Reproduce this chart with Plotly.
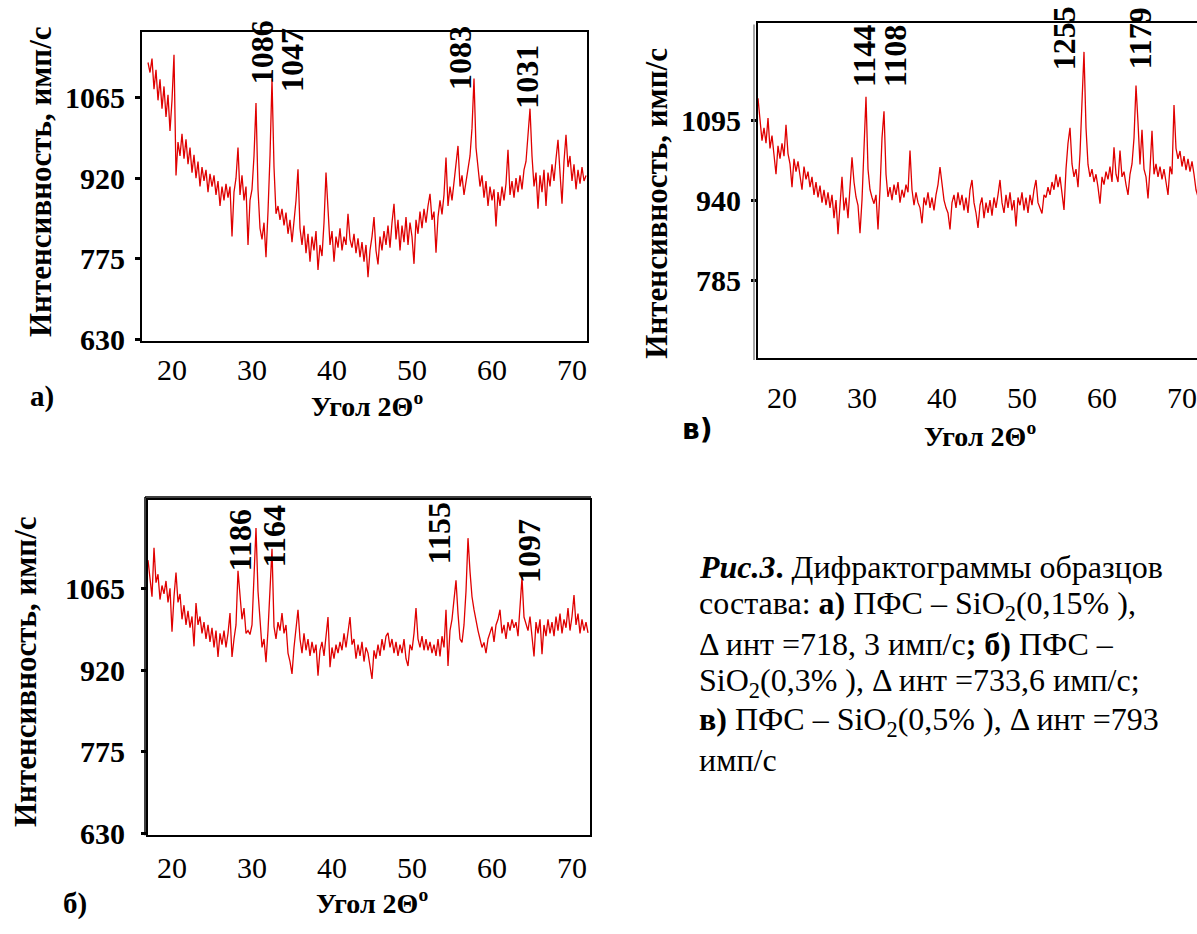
import numpy as np
import plotly.graph_objects as go

W, H = 1197, 934
SERIF = "Liberation Serif"
SANS = "DejaVu Sans"

# ---------------- data (2θ scan, step 0.25°, starting at 17°) ----------------
scan_start = 17.0
scan_step = 0.25

intensity_a = [
    1128, 1110, 1135, 1080, 1115, 1060, 1098, 1045, 1085, 1030, 1070, 1005, 1060, 1142, 925, 985, 960, 1000, 955, 990,
    945, 975, 930, 962, 920, 950, 905, 940, 915, 935, 895, 928, 905, 925, 890, 915, 870, 905, 880, 910,
    885, 905, 815, 895, 920, 975, 890, 925, 880, 905, 800, 880, 900, 960, 1055, 900, 830, 810, 840, 778,
    860, 960, 1098, 940, 856, 870, 845, 865, 835, 858, 820, 845, 805, 840, 880, 936, 830, 800, 835, 785,
    820, 770, 815, 790, 825, 755, 800, 780, 840, 930, 870, 800, 825, 770, 815, 795, 830, 790, 815, 800,
    856, 810, 795, 820, 785, 812, 778, 805, 770, 800, 742, 790, 815, 850, 790, 765, 815, 790, 825, 800,
    835, 795, 840, 874, 810, 845, 790, 835, 805, 850, 800, 840, 815, 766, 845, 820, 860, 830, 865, 840,
    870, 892, 845, 860, 786, 850, 880, 855, 890, 957, 870, 905, 880, 915, 940, 978, 905, 925, 890, 915,
    935, 960, 1010, 1099, 975, 934, 905, 925, 885, 915, 870, 905, 880, 900, 833, 895, 870, 905, 880, 910,
    971, 890, 915, 885, 920, 895, 925, 900, 935, 950, 1000, 1045, 960, 905, 930, 865, 925, 895, 935, 870,
    930, 905, 945, 915, 955, 989, 930, 874, 950, 998, 940, 960, 915, 945, 900, 935, 910, 940, 915, 925,
]

intensity_b = [
    1115, 1080, 1050, 1137, 1075, 1090, 1045, 1070, 1055, 1078, 1040, 1065, 988, 1050, 1093, 1040, 1055, 1010, 1035, 1000,
    1025, 995, 1015, 962, 1039, 1000, 1015, 985, 1005, 975, 1000, 970, 995, 960, 990, 943, 985, 965, 990, 960,
    985, 1021, 943, 975, 1000, 1096, 1045, 1010, 1030, 985, 990, 983, 1000, 1080, 1172, 1060, 1005, 960, 975, 934,
    990, 1060, 1135, 997, 975, 1005, 990, 1021, 985, 1000, 950, 935, 913, 960, 1000, 1027, 975, 950, 985, 955,
    975, 945, 970, 950, 965, 910, 955, 970, 945, 985, 1014, 925, 960, 940, 965, 950, 970, 955, 985, 960,
    990, 1014, 965, 975, 940, 965, 945, 970, 935, 960, 950, 925, 904, 955, 940, 965, 945, 975, 955, 980,
    986, 960, 975, 950, 970, 945, 965, 950, 975, 940, 927, 965, 955, 985, 1030, 975, 960, 980, 955, 975,
    955, 970, 950, 965, 945, 975, 944, 980, 960, 1027, 927, 990, 1010, 1045, 1079, 1020, 975, 969, 1000, 1060,
    1154, 1095, 1050, 1027, 1005, 990, 975, 960, 969, 950, 975, 985, 997, 970, 1000, 1010, 1027, 985, 1000, 975,
    1005, 990, 1010, 995, 1005, 980, 1040, 1084, 1014, 1000, 990, 1015, 975, 944, 1005, 985, 1010, 948, 1000, 980,
    1010, 985, 1005, 980, 1015, 990, 1020, 985, 1010, 995, 1030, 990, 1015, 1053, 1000, 1020, 985, 1010, 990, 1005,
    986,
]

intensity_v = [
    1137, 1100, 1055, 1080, 1050, 1099, 1040, 1065, 1030, 990, 1045, 1020, 1050, 1025, 1086, 1030, 1010, 965, 1020, 995,
    1015, 985, 960, 1005, 980, 995, 965, 985, 950, 975, 945, 968, 935, 960, 930, 955, 925, 950, 905, 940,
    874, 930, 985, 920, 945, 905, 960, 1023, 975, 946, 930, 876, 940, 1040, 1140, 1000, 960, 945, 933, 950,
    883, 960, 1060, 1112, 990, 946, 965, 940, 970, 950, 975, 935, 960, 945, 970, 955, 1036, 960, 930, 955,
    935, 925, 895, 945, 930, 955, 925, 945, 920, 950, 970, 1004, 965, 940, 925, 915, 883, 935, 950, 925,
    955, 930, 950, 920, 945, 915, 960, 979, 935, 915, 886, 930, 945, 905, 935, 915, 940, 910, 945, 925,
    950, 979, 935, 915, 950, 925, 955, 920, 940, 889, 945, 930, 955, 920, 945, 915, 950, 930, 960, 979,
    935, 925, 914, 950, 945, 965, 950, 975, 960, 990, 965, 985, 955, 921, 1000, 1050, 1080, 1010, 985, 1000,
    965, 1030, 1130, 1227, 1080, 1009, 985, 1000, 975, 990, 965, 933, 985, 970, 995, 980, 1005, 975, 1042, 990,
    975, 1036, 985, 995, 970, 950, 990, 1010, 1060, 1162, 1090, 1009, 1076, 1000, 985, 943, 1000, 1074, 990, 1010,
    985, 1005, 980, 1000, 975, 950, 1005, 990, 1124, 1040, 1020, 1035, 1005, 1025, 998, 1020, 995, 1015, 990, 960,
    946,
]

y_ticks_a = [630, 775, 920, 1065]
y_ticks_b = [630, 775, 920, 1065]
y_ticks_v = [630, 785, 940, 1095]
x_ticks = [20, 30, 40, 50, 60, 70]

peaks_a = ["1086", "1047", "1083", "1031"]
peaks_b = ["1186", "1164", "1155", "1097"]
peaks_v = ["1144", "1108", "1255", "1179"]


def grid(vals):
    return scan_start + scan_step * np.arange(len(vals))


def px(x):
    return x / W


def py(y):
    return 1 - y / H


LINE = dict(color="#e00000", width=1.3)

fig = go.Figure()
fig.add_trace(go.Scatter(x=grid(intensity_a), y=intensity_a, mode="lines", line=LINE,
                         xaxis="x", yaxis="y", hoverinfo="skip"))
fig.add_trace(go.Scatter(x=grid(intensity_v), y=intensity_v, mode="lines", line=LINE,
                         xaxis="x2", yaxis="y2", hoverinfo="skip"))
fig.add_trace(go.Scatter(x=grid(intensity_b), y=intensity_b, mode="lines", line=LINE,
                         xaxis="x3", yaxis="y3", hoverinfo="skip"))

ytick_font = dict(family=SERIF, size=30, color="black", weight="bold")
xtick_font = dict(family=SERIF, size=30, color="black")


def xax(domain, rng, anchor, mirror, standoff):
    return dict(domain=domain, range=rng, anchor=anchor, tickvals=x_ticks,
                ticktext=[str(v) for v in x_ticks], ticks="", showgrid=False,
                zeroline=False, showline=True, linecolor="black", linewidth=2,
                mirror=mirror, tickfont=xtick_font, ticklabelstandoff=standoff)


def yax(domain, rng, anchor, ticks, mirror, standoff):
    return dict(domain=domain, range=rng, anchor=anchor, tickvals=ticks,
                ticktext=[str(v) for v in ticks], ticks="outside", ticklen=5,
                tickwidth=3, tickcolor="black", showgrid=False, zeroline=False,
                showline=True, linecolor="black", linewidth=2, mirror=mirror,
                tickfont=ytick_font, ticklabelstandoff=standoff)


fig.update_layout(
    width=W, height=H, margin=dict(l=0, r=0, t=0, b=0),
    paper_bgcolor="white", plot_bgcolor="white", showlegend=False,
    xaxis=xax([px(142), px(587)], [16.25, 71.875], "y", True, 1),
    yaxis=yax([py(347), py(33)], [626.5, 1182], "x", y_ticks_a, True, 4),
    xaxis2=xax([px(758), 1.0], [17.0, 71.875], "y2", True, 12),
    yaxis2=yax([py(364), py(23)], [633.8, 1283.7], "x2", y_ticks_v, False, 4),
    xaxis3=xax([px(148), px(590)], [17.0, 72.25], "y3", True, 5),
    yaxis3=yax([py(849), py(508)], [626.5, 1222], "x3", y_ticks_b, True, 10),
)

ann = []


def text(x, y, s, size=28, font=SERIF, angle=0, xanchor="center", weight="normal"):
    ann.append(dict(x=px(x), y=py(y), xref="paper", yref="paper", text=s, showarrow=False,
                    textangle=angle, xanchor=xanchor, yanchor="middle",
                    font=dict(family=font, size=size, color="black", weight=weight)))


# peak labels
for s, (x, y) in zip(peaks_a, [(262, 53), (292, 61), (460, 59), (527, 78)]):
    text(x, y, s, 32, angle=-90, weight="bold")
for s, (x, y) in zip(peaks_v, [(864, 57), (895, 57), (1064, 39), (1140, 39)]):
    text(x, y, s, 32, angle=-90, weight="bold")
for s, (x, y) in zip(peaks_b, [(240, 549), (274, 545), (439, 542), (529, 560)]):
    text(x, y, s, 32, angle=-90, weight="bold")

# axis titles
ytitle = "Интенсивность, имп/с"
xtitle = "Угол 2Θ<sup>o</sup>"
text(40, 185, ytitle, 31, angle=-90, weight="bold")
text(657, 207, ytitle, 31, angle=-90, weight="bold")
text(25, 683, ytitle, 31, angle=-90, weight="bold")
text(367, 411, xtitle, 28, weight="bold")
text(980, 442, xtitle, 28, weight="bold")
text(372, 916, xtitle, 28, weight="bold")

# panel letters
text(42, 403, "а)", 29, weight="bold")
text(75, 918, "б)", 29, weight="bold")
text(697, 437, "в)", 28, font=SANS, weight="bold")

# caption
cap_x = 697
cap_lines = [
    "<b><i>Рис.3</i>.</b> Дифрактограммы образцов",
    "состава: <b>а)</b> ПФС – SiO<sub>2</sub>(0,15% ),",
    "Δ инт =718, 3 имп/с<b>; б)</b> ПФС –",
    "SiO<sub>2</sub>(0,3% ), Δ инт =733,6 имп/с;",
    "<b>в)</b> ПФС – SiO<sub>2</sub>(0,5% ), Δ инт =793",
    "имп/с",
]
for i, s in enumerate(cap_lines):
    text(cap_x, 576 + 39.2 * i, s, 32, xanchor="left")

fig.update_layout(annotations=ann)

# double frame lines (as in the scanned figure)
shapes = [
    dict(type="line", xref="paper", yref="paper", x0=px(145), x1=px(591), y0=py(505), y1=py(505),
         line=dict(color="black", width=1.5)),
    dict(type="line", xref="paper", yref="paper", x0=px(145), x1=px(145), y0=py(505), y1=py(849),
         line=dict(color="black", width=1.5)),
    dict(type="line", xref="paper", yref="paper", x0=px(754), x1=px(754), y0=py(25), y1=py(366),
         line=dict(color="#888888", width=1.5)),
]
fig.update_layout(shapes=shapes)

fig.write_html("out.html", config={"displayModeBar": False},
               post_script="document.body.style.margin='0';document.body.style.overflow='hidden';")
